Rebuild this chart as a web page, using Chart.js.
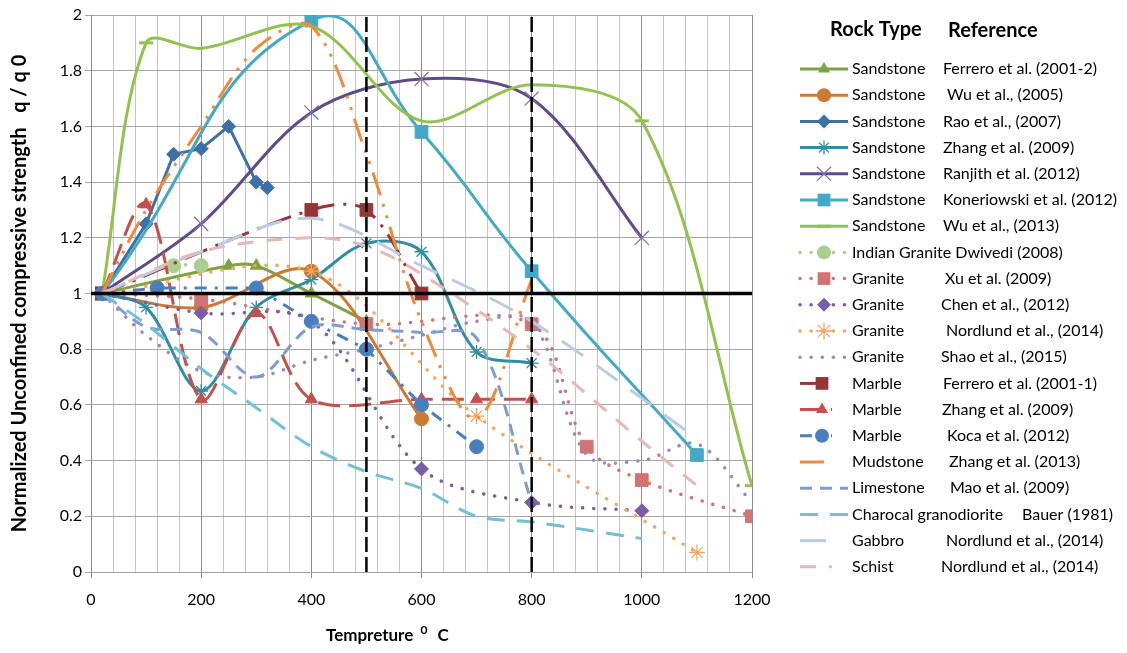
<!DOCTYPE html>
<html>
<head>
<meta charset="utf-8">
<script src="https://cdn.jsdelivr.net/npm/chart.js@4.4.1/dist/chart.umd.min.js"></script>
<style>
  html, body { margin: 0; padding: 0; background: #fff; }
</style>
</head>
<body>
<canvas id="rockChart" width="1127" height="653"></canvas>
<script>
// axis ranges
var tempMin = 0, tempMax = 1200;
var ratioMin = 0, ratioMax = 2;
var limitTemps = [500, 800];
var unityRatio = 1;

// Sandstone
var ferreroSandT = [20, 250, 300, 400, 500];
var ferreroSandQ = [1, 1.1, 1.1, 1.0, 0.9];
var wu05T = [20, 200, 400, 600];
var wu05Q = [1, 0.95, 1.08, 0.55];
var raoT = [20, 100, 150, 200, 250, 300, 320];
var raoQ = [1, 1.25, 1.5, 1.52, 1.6, 1.4, 1.38];
var zhangSandT = [20, 100, 200, 300, 400, 500, 600, 700, 800];
var zhangSandQ = [1, 0.95, 0.65, 0.95, 1.05, 1.18, 1.15, 0.79, 0.75];
var ranjithT = [20, 200, 400, 600, 800, 1000];
var ranjithQ = [1, 1.25, 1.65, 1.77, 1.7, 1.2];
var konerT = [20, 400, 600, 800, 1100];
var konerQ = [1, 1.98, 1.58, 1.08, 0.42];
var wu13T = [20, 100, 200, 400, 600, 800, 1000, 1200];
var wu13Q = [1, 1.9, 1.88, 1.96, 1.62, 1.75, 1.62, 0.31];

// Granite
var dwivediT = [20, 150, 200];
var dwivediQ = [1, 1.1, 1.1];
var xuT = [20, 200, 500, 800, 900, 1000, 1200];
var xuQ = [1, 0.98, 0.89, 0.89, 0.45, 0.33, 0.2];
var chenT = [20, 200, 400, 600, 800, 1000];
var chenQ = [1, 0.93, 0.9, 0.37, 0.25, 0.22];
var nordGranT = [20, 400, 700, 1100];
var nordGranQ = [1, 1.08, 0.56, 0.07];
var shaoT = [20, 100, 200, 300, 400, 500, 600, 700, 800, 900, 1000, 1100, 1200];
var shaoQ = [1, 0.85, 0.72, 0.7, 0.76, 0.8, 0.85, 0.9, 0.9, 0.42, 0.4, 0.46, 0.25];

// Marble
var ferreroMarbT = [20, 400, 500, 600];
var ferreroMarbQ = [1, 1.3, 1.3, 1.0];
var zhangMarbT = [20, 100, 200, 300, 400, 600, 700, 800];
var zhangMarbQ = [1, 1.32, 0.62, 0.93, 0.62, 0.62, 0.62, 0.62];
var kocaT = [20, 120, 300, 400, 500, 600, 700];
var kocaQ = [1, 1.02, 1.02, 0.9, 0.8, 0.6, 0.45];

// others
var mudT = [20, 100, 200, 300, 400, 500, 600, 700, 800];
var mudQ = [1, 1.3, 1.6, 1.88, 1.96, 1.5, 0.9, 0.55, 1.05];
var maoT = [20, 100, 200, 300, 400, 500, 600, 700, 800];
var maoQ = [1, 0.88, 0.86, 0.7, 0.88, 0.87, 0.86, 0.84, 0.25];
var bauerT = [20, 100, 200, 300, 400, 500, 600, 700, 800, 1000];
var bauerQ = [1, 0.89, 0.73, 0.59, 0.45, 0.36, 0.3, 0.2, 0.18, 0.12];
var gabbroT = [20, 200, 400, 600, 800, 1100];
var gabbroQ = [1, 1.15, 1.27, 1.1, 0.9, 0.48];
var schistT = [20, 200, 400, 500, 600, 800, 1000, 1100];
var schistQ = [1, 1.15, 1.2, 1.17, 1.07, 0.8, 0.47, 0.31];

var rockTypes = ['Sandstone', 'Sandstone', 'Sandstone', 'Sandstone', 'Sandstone', 'Sandstone', 'Sandstone',
  'Indian Granite Dwivedi (2008)', 'Granite', 'Granite', 'Granite', 'Granite',
  'Marble', 'Marble', 'Marble', 'Mudstone', 'Limestone', 'Charocal granodiorite', 'Gabbro', 'Schist'];
var references = ['Ferrero et al. (2001-2)', 'Wu et al., (2005)', 'Rao et al., (2007)', 'Zhang et al. (2009)',
  'Ranjith et al. (2012)', 'Koneriowski et al. (2012)', 'Wu et al., (2013)', '',
  'Xu et al. (2009)', 'Chen et al., (2012)', 'Nordlund et al., (2014)', 'Shao et al., (2015)',
  'Ferrero et al. (2001-1)', 'Zhang et al. (2009)', 'Koca et al. (2012)', 'Zhang et al. (2013)',
  'Mao et al. (2009)', 'Bauer (1981)', 'Nordlund et al., (2014)', 'Nordlund et al., (2014)'];

var FONT = "Lato, 'Open Sans', sans-serif";
Chart.defaults.font.family = FONT;
Chart.defaults.color = '#000';

function toPoints(xs, ys) {
  return xs.map(function (x, i) { return { x: x, y: ys[i] }; });
}

var DOT = [0.1, 11];

function series(label, xs, ys, color, o) {
  o = o || {};
  return {
    label: label,
    data: toPoints(xs, ys),
    borderColor: color,
    backgroundColor: color,
    borderWidth: o.width || 3,
    borderDash: o.dash || [],
    borderCapStyle: o.cap || 'butt',
    tension: o.tension === undefined ? 0.33 : o.tension,
    pointStyle: o.marker || false,
    pointRadius: o.marker ? (o.radius || 6) : 0,
    pointHoverRadius: 0,
    pointBackgroundColor: o.markerColor || color,
    pointBorderColor: o.markerColor || color,
    pointBorderWidth: o.markerWidth || 1,
    legendRadius: o.radius || 6,
    shortSample: !!o.shortSample
  };
}

var datasets = [
  series('Ferrero sandstone', ferreroSandT, ferreroSandQ, '#7BA33F', { marker: 'triangle', radius: 7 }),
  series('Wu 2005', wu05T, wu05Q, '#CC7A33', { marker: 'circle', radius: 7 }),
  series('Rao 2007', raoT, raoQ, '#3D6FA8', { marker: 'rectRot', radius: 7, tension: 0 }),
  series('Zhang sandstone', zhangSandT, zhangSandQ, '#2F8FA0', { marker: 'star', radius: 7, markerWidth: 1.3 }),
  series('Ranjith 2012', ranjithT, ranjithQ, '#5F4A8B', { marker: 'crossRot', radius: 10, markerColor: '#8470AC', markerWidth: 1.3 }),
  series('Koneriowski 2012', konerT, konerQ, '#44A9C6', { marker: 'rect', radius: 9, tension: 0.5 }),
  series('Wu 2013', wu13T, wu13Q, '#92C24E', { marker: 'line', radius: 7, markerWidth: 3 }),
  series('Dwivedi 2008', dwivediT, dwivediQ, '#A8CF8C', { marker: 'circle', radius: 7, dash: DOT, cap: 'round', width: 3.5 }),
  series('Xu 2009', xuT, xuQ, '#D27473', { marker: 'rect', radius: 9, dash: DOT, cap: 'round', width: 3.5 }),
  series('Chen 2012', chenT, chenQ, '#7A5DA8', { marker: 'rectRot', radius: 7, dash: DOT, cap: 'round', width: 3.5 }),
  series('Nordlund granite', nordGranT, nordGranQ, '#F8A460', { marker: 'star', radius: 8, dash: DOT, cap: 'round', width: 3.5, markerWidth: 1.3 }),
  series('Shao 2015', shaoT, shaoQ, '#9C87C2', { dash: DOT, cap: 'round', width: 3.5 }),
  series('Ferrero marble', ferreroMarbT, ferreroMarbQ, '#963634', { marker: 'rect', radius: 9, dash: [24, 9, 3, 9], shortSample: true }),
  series('Zhang marble', zhangMarbT, zhangMarbQ, '#C4504D', { marker: 'triangle', radius: 7, dash: [22, 9], shortSample: true }),
  series('Koca 2012', kocaT, kocaQ, '#4A7EBF', { marker: 'circle', radius: 7, dash: [12, 8, 3, 8], tension: 0, shortSample: true }),
  series('Mudstone', mudT, mudQ, '#F08A3C', { dash: [24, 9, 3, 9, 3, 9], shortSample: true }),
  series('Mao 2009', maoT, maoQ, '#7D9CD3', { dash: [12, 8] }),
  series('Bauer 1981', bauerT, bauerQ, '#72C0D6', { dash: [18, 12] }),
  series('Gabbro', gabbroT, gabbroQ, '#B9CCE4', { dash: [26, 16], shortSample: true }),
  series('Schist', schistT, schistQ, '#E6B8B7', { dash: [16, 13], shortSample: true })
];

// Wu 2013: dash markers only visible at a few temperatures
datasets[6].pointRadius = function (c) { return [1, 6, 7].indexOf(c.dataIndex) >= 0 ? 7 : 0; };
// Koneriowski curve overshoots past the top of the axis and is clipped there
datasets[5].capBezierPoints = false;

// first series drawn at the bottom, as in the source sheet
datasets.forEach(function (ds, i) { ds.order = datasets.length - i; });

// reference lines on top
datasets.push({
  label: 'unity', order: 0,
  data: [{ x: tempMin, y: unityRatio }, { x: tempMax, y: unityRatio }],
  borderColor: '#000', borderWidth: 3.5, pointRadius: 0, tension: 0
});
limitTemps.forEach(function (t) {
  datasets.push({
    label: 'limit ' + t, order: 0,
    data: [{ x: t, y: ratioMin }, { x: t, y: ratioMax }],
    borderColor: '#000', borderWidth: 2.5, borderDash: [15, 5], pointRadius: 0, tension: 0
  });
});

var refX = [943, 947, 943, 943, 943, 943, 943, 0, 945, 941, 946, 941, 943, 942, 947, 949, 950, 1022, 946, 941];

function drawMarker(ctx, ds, cx, cy) {
  var r = ds.legendRadius;
  ctx.setLineDash([]);
  ctx.fillStyle = ds.pointBackgroundColor;
  ctx.strokeStyle = ds.pointBorderColor;
  ctx.lineWidth = ds.pointBorderWidth;
  ctx.beginPath();
  switch (ds.pointStyle) {
    case 'circle':
      ctx.arc(cx, cy, r, 0, Math.PI * 2); ctx.fill(); break;
    case 'triangle':
      ctx.moveTo(cx, cy - r); ctx.lineTo(cx + r * 0.866, cy + r * 0.5); ctx.lineTo(cx - r * 0.866, cy + r * 0.5);
      ctx.closePath(); ctx.fill(); break;
    case 'rect':
      var s = r * Math.SQRT1_2; ctx.rect(cx - s, cy - s, 2 * s, 2 * s); ctx.fill(); break;
    case 'rectRot':
      ctx.moveTo(cx, cy - r); ctx.lineTo(cx + r, cy); ctx.lineTo(cx, cy + r); ctx.lineTo(cx - r, cy);
      ctx.closePath(); ctx.fill(); break;
    case 'crossRot':
      var d = r * Math.SQRT1_2;
      ctx.moveTo(cx - d, cy - d); ctx.lineTo(cx + d, cy + d); ctx.moveTo(cx + d, cy - d); ctx.lineTo(cx - d, cy + d);
      ctx.stroke(); break;
    case 'star':
      var e = r * Math.SQRT1_2;
      ctx.moveTo(cx, cy - r); ctx.lineTo(cx, cy + r); ctx.moveTo(cx - r, cy); ctx.lineTo(cx + r, cy);
      ctx.moveTo(cx - e, cy - e); ctx.lineTo(cx + e, cy + e); ctx.moveTo(cx + e, cy - e); ctx.lineTo(cx - e, cy + e);
      ctx.stroke(); break;
    case 'line':
      ctx.moveTo(cx - r, cy); ctx.lineTo(cx + r, cy); ctx.stroke(); break;
  }
}

var rockLegend = {
  id: 'rockLegend',
  afterDraw: function (chart) {
    var ctx = chart.ctx;
    ctx.save();
    ctx.textBaseline = 'middle';
    ctx.fillStyle = '#000';
    ctx.font = 'bold 20px ' + FONT;
    ctx.fillText('Rock Type', 830, 30);
    ctx.fillText('Reference', 948, 31);

    rockTypes.forEach(function (rock, i) {
      var ds = chart.data.datasets[i];
      var y = 69 + i * 26.2;
      var x1 = 800, x2 = ds.shortSample ? 832 : 848;
      ctx.save();
      ctx.strokeStyle = ds.borderColor;
      ctx.lineWidth = ds.borderWidth;
      ctx.lineCap = ds.borderCapStyle;
      ctx.setLineDash(ds.borderDash);
      ctx.beginPath();
      ctx.moveTo(x1, y);
      ctx.lineTo(x2, y);
      ctx.stroke();
      if (ds.pointStyle) drawMarker(ctx, ds, ds.shortSample ? 822 : 824, y);
      ctx.restore();
      ctx.font = '16px ' + FONT;
      ctx.fillStyle = '#000';
      ctx.fillText(rock, 852, y);
      if (references[i]) ctx.fillText(references[i], refX[i], y);
    });

    // x axis title with superscript degree zero
    var part1 = 'Tempreture ';
    ctx.font = 'bold 17px ' + FONT;
    var x = 326, y0 = 636;
    ctx.fillText(part1, x, y0);
    x += ctx.measureText(part1).width + 3;
    ctx.font = 'bold 12px ' + FONT;
    ctx.fillText('0', x, y0 - 6);
    x += ctx.measureText('0').width + 6;
    ctx.font = 'bold 17px ' + FONT;
    ctx.fillText(' C', x, y0);
    ctx.restore();
  }
};

new Chart(document.getElementById('rockChart'), {
  type: 'line',
  data: { datasets: datasets },
  options: {
    responsive: false,
    animation: false,
    layout: { padding: { left: 0, top: 15, right: 375, bottom: 0 } },
    plugins: {
      legend: { display: false },
      tooltip: { enabled: false }
    },
    scales: {
      x: {
        type: 'linear',
        min: tempMin,
        max: tempMax,
        afterFit: function (s) { s.height = 81; },
        ticks: {
          stepSize: 40,
          autoSkip: false,
          maxRotation: 0,
          padding: 12,
          font: { size: 16 },
          callback: function (v) { return v % 200 === 0 ? v : ''; }
        },
        grid: {
          color: function (c) { return c.tick && c.tick.value % 200 === 0 ? '#8C8C8C' : '#C4C4C4'; },
          tickColor: function (c) { return c.tick && c.tick.value % 200 === 0 ? '#8C8C8C' : 'rgba(0,0,0,0)'; },
          tickLength: 6,
          lineWidth: 1
        },
        border: { color: '#A0A0A0' }
      },
      y: {
        min: ratioMin,
        max: ratioMax,
        afterFit: function (s) { s.width = 91; },
        ticks: {
          stepSize: 0.2,
          padding: 3,
          font: { size: 16 },
          callback: function (v) { return String(Math.round(v * 10) / 10); }
        },
        grid: { color: '#A6A6A6', tickColor: '#A6A6A6', tickLength: 6, lineWidth: 1 },
        border: { color: '#8C8C8C' },
        title: {
          display: true,
          text: 'Normalized Unconfined compressive strength   q / q 0',
          font: { size: 20, weight: 'bold' },
          color: '#000',
          padding: { top: 8, bottom: 0 }
        }
      }
    }
  },
  plugins: [rockLegend]
});
</script>
</body>
</html>
